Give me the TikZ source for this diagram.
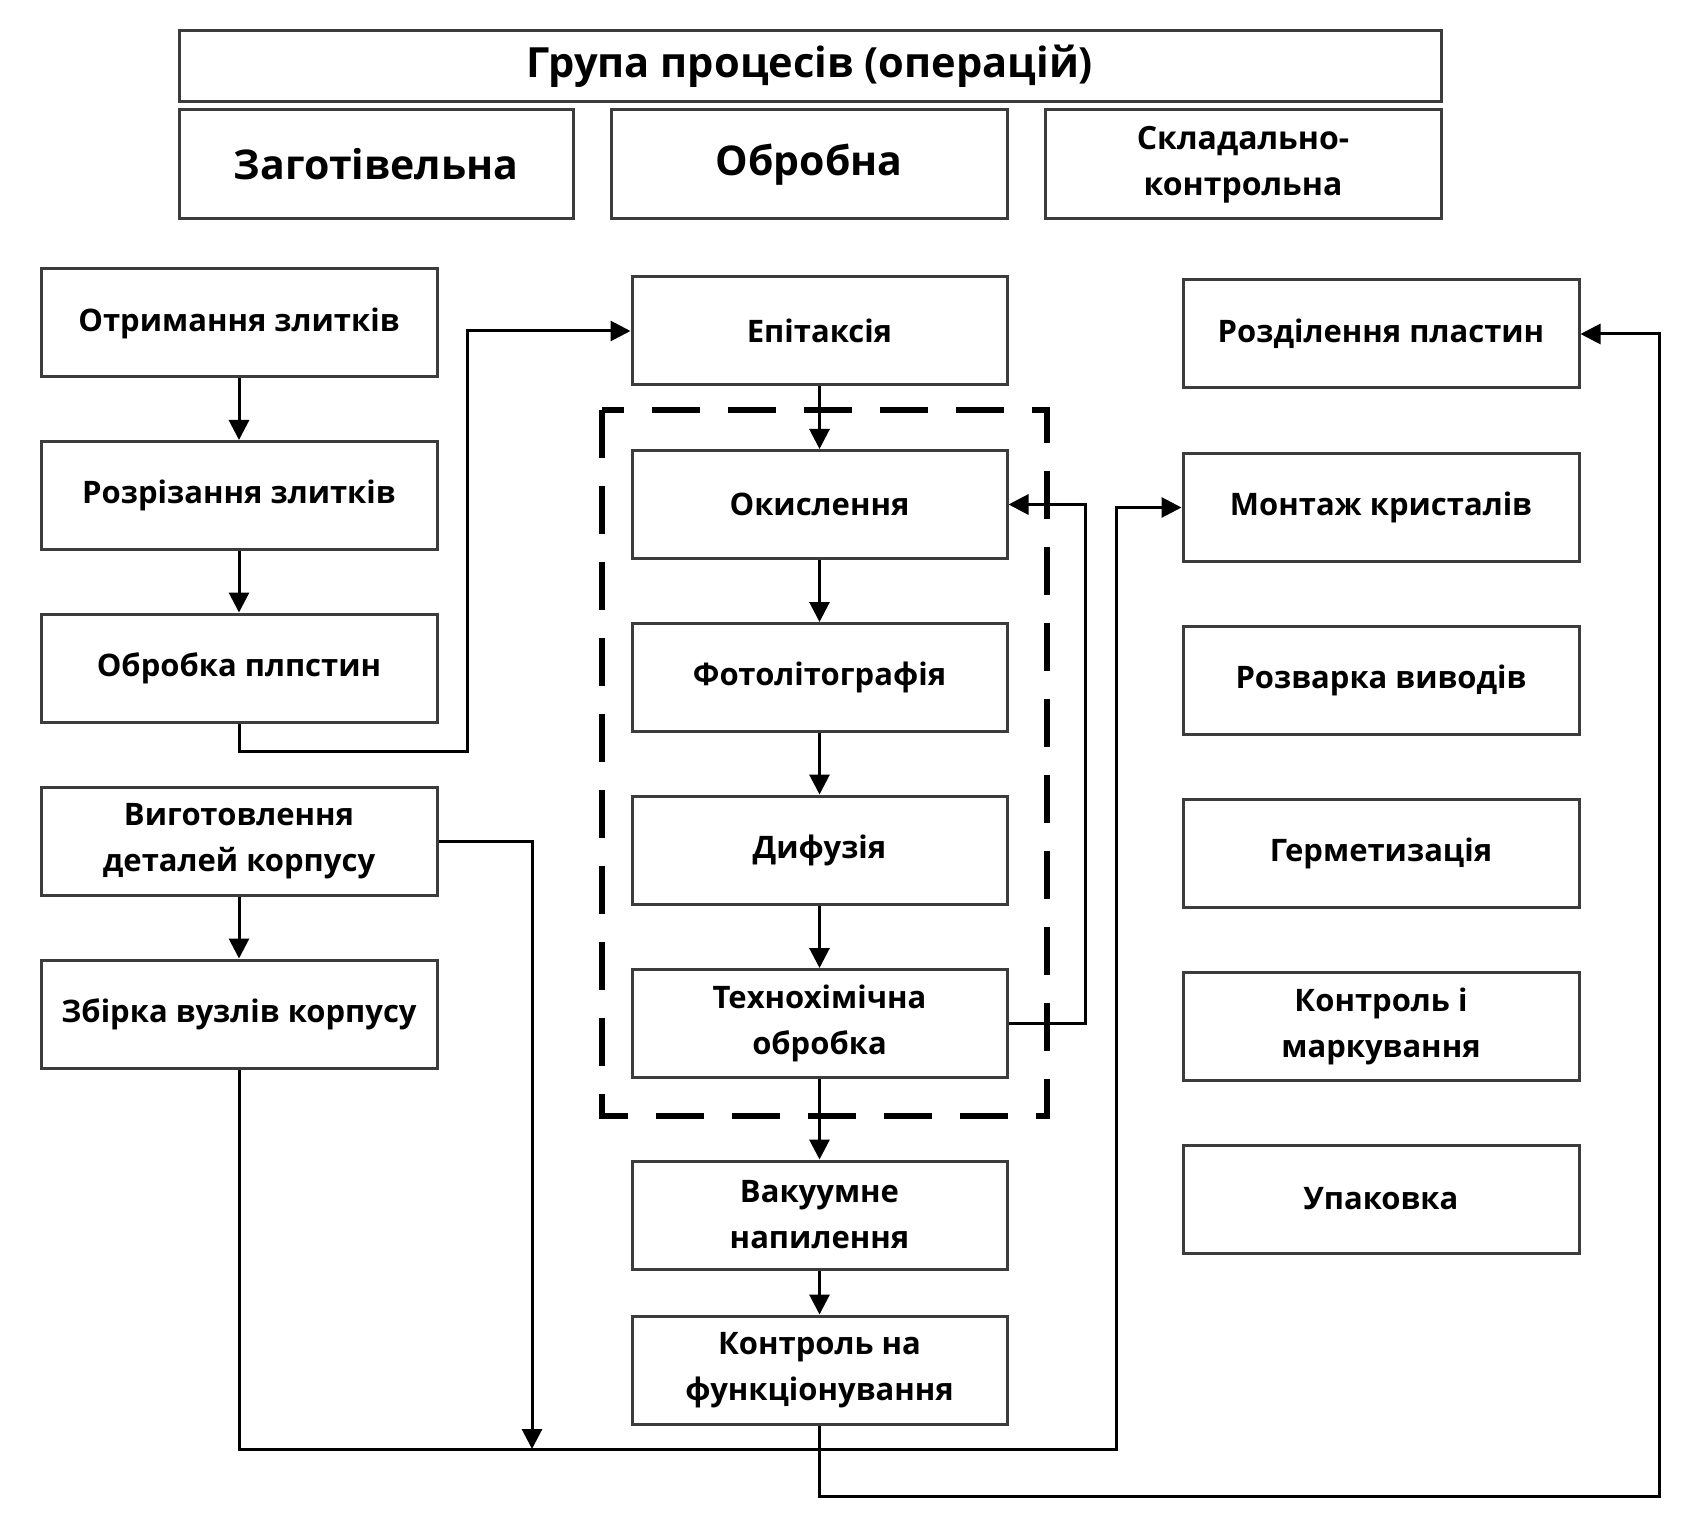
\documentclass[tikz,border=0pt]{standalone}
\usepackage{fontspec}
\setmainfont{Open Sans}
\usetikzlibrary{arrows.meta}
\definecolor{boxgray}{RGB}{60,60,60}
\begin{document}
\begin{tikzpicture}[x=0.5pt,y=-0.5pt,
  box/.style={draw=boxgray, line width=1.5pt, fill=white, inner sep=0pt, align=center,
    font=\bfseries\fontsize{15.5}{23}\selectfont},
  lbox/.style={box, minimum width=198pt, minimum height=54pt},
  mbox/.style={box, minimum width=187.5pt, minimum height=54pt},
  rbox/.style={box, minimum width=198pt, minimum height=54pt},
  hbox/.style={box, minimum width=198pt, minimum height=54.5pt, font=\bfseries\fontsize{20.5}{25}\selectfont},
  conn/.style={draw=black, line width=1.5pt},
  arr/.style={conn, -{Triangle[length=10pt,width=10pt]}},
  dashbox/.style={draw=black, line width=3pt, dash pattern=on 24pt off 14pt}
]
\useasboundingbox[fill=white] (0,0) rectangle (1702,1534);

% dashed group
\draw[dashbox] (602,410) rectangle (1047,1116);

% header
\node[box, minimum width=631pt, minimum height=35.5pt, font=\bfseries\fontsize{20.8}{24}\selectfont] (title) at (810,66) {Група процесів (операцій)};
\node[hbox, minimum width=197pt] (h1) at (376,164.5) {Заготівельна};
\node[hbox] (h2) at (809,164.5) {Обробна};
\node[hbox, font=\bfseries\fontsize{16}{23}\selectfont] (h3) at (1243,164.5) {Складально-\\контрольна};

% left column
\node[lbox] (l1) at (239,323) {Отримання злитків};
\node[lbox] (l2) at (239,495.5) {Розрізання злитків};
\node[lbox] (l3) at (239,668) {Обробка плпстин};
\node[lbox] (l4) at (239,841.5) {Виготовлення\\деталей корпусу};
\node[lbox] (l5) at (239,1014) {Збірка вузлів корпусу};

% middle column
\node[mbox] (m1) at (819.5,331) {Епітаксія};
\node[mbox] (m2) at (819.5,504.5) {Окислення};
\node[mbox] (m3) at (819.5,677.5) {Фотолітографія};
\node[mbox] (m4) at (819.5,850) {Дифузія};
\node[mbox] (m5) at (819.5,1023.5) {Технохімічна\\обробка};
\node[mbox] (m6) at (819.5,1215) {Вакуумне\\напилення};
\node[mbox] (m7) at (819.5,1370) {Контроль на\\функціонування};

% right column
\node[rbox] (r1) at (1381,334) {Розділення пластин};
\node[rbox] (r2) at (1381,507.5) {Монтаж кристалів};
\node[rbox] (r3) at (1381,680.5) {Розварка виводів};
\node[rbox] (r4) at (1381,853) {Герметизація};
\node[rbox] (r5) at (1381,1026) {Контроль і\\маркування};
\node[rbox] (r6) at (1381,1199) {Упаковка};

% helper coordinates
\coordinate (c3) at (467,751);
\coordinate (c4) at (532,1449);
\coordinate (cb) at (1116,1449);
\coordinate (cr) at (1085,1023.5);
\coordinate (ck) at (1659,1496);

% left column arrows
\draw[arr] (l1) -- (l2);
\draw[arr] (l2) -- (l3);
\draw[arr] (l4) -- (l5);
\draw[arr] (l3.south) |- (c3) |- (m1.west);
\draw[arr] (l4.east) -| (c4);
\draw[arr] (l5.south) |- (cb) |- (r2.west);

% middle column arrows
\draw[arr] (m1) -- (m2);
\draw[arr] (m2) -- (m3);
\draw[arr] (m3) -- (m4);
\draw[arr] (m4) -- (m5);
\draw[arr] (m5) -- (m6);
\draw[arr] (m6) -- (m7);
\draw[arr] (m5.east) -- (cr) |- (m2.east);
\draw[arr] (m7.south) |- (ck) |- (r1.east);
\end{tikzpicture}
\end{document}
